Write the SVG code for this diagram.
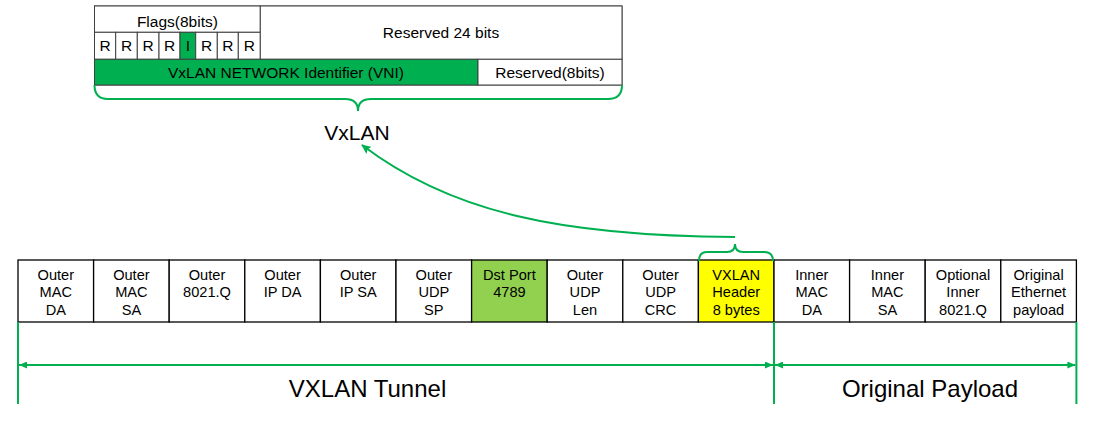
<svg xmlns="http://www.w3.org/2000/svg" width="1100" height="423" viewBox="0 0 1100 423">
<style>
text{font-family:"Liberation Sans",Arial,sans-serif;fill:#000;text-anchor:middle}
.t{font-size:15.5px}
.c{font-size:14.6px}
.big{font-size:24px}
.hb{fill:#fff;stroke:#404040;stroke-width:1}
.cell{fill:#fff;stroke:#000;stroke-width:1.3}
.g{stroke:#00B050;stroke-width:2;fill:none}
</style>
<defs>
<marker id="ah" viewBox="0 0 8 7" refX="8" refY="3.5" markerWidth="8" markerHeight="7" markerUnits="userSpaceOnUse" orient="auto-start-reverse">
<path d="M0,0 L8,3.5 L0,7 z" fill="#00B050"/>
</marker>
<marker id="ah2" viewBox="0 0 10 9" refX="9" refY="4.5" markerWidth="10" markerHeight="9" markerUnits="userSpaceOnUse" orient="auto">
<path d="M0,0 L10,4.5 L0,9 L2,4.5 z" fill="#00B050"/>
</marker>
</defs>

<g id="vxlan-header">
<rect class="hb" x="94.5" y="6" width="527.5" height="79"/>
<g id="flags">
<rect class="hb" x="94.5" y="6" width="165.8" height="26.3"/>
<text class="t" x="177.4" y="26.5">Flags(8bits)</text>
</g>
<g id="flag-bits">
<rect class="hb" x="94.5" y="32.3" width="21.2" height="27"/>
<rect class="hb" x="115.7" y="32.3" width="21.6" height="27"/>
<rect class="hb" x="137.3" y="32.3" width="21.7" height="27"/>
<rect class="hb" x="159" y="32.3" width="21" height="27"/>
<rect x="180" y="32.3" width="15.7" height="27" fill="#00B050" stroke="#404040" stroke-width="1"/>
<rect class="hb" x="195.7" y="32.3" width="21.6" height="27"/>
<rect class="hb" x="217.3" y="32.3" width="21" height="27"/>
<rect class="hb" x="238.3" y="32.3" width="22" height="27"/>
<text class="t" x="105.1" y="51">R</text>
<text class="t" x="126.5" y="51">R</text>
<text class="t" x="148.2" y="51">R</text>
<text class="t" x="169.5" y="51">R</text>
<text class="t" x="187.9" y="51">I</text>
<text class="t" x="206.5" y="51">R</text>
<text class="t" x="227.8" y="51">R</text>
<text class="t" x="249.3" y="51">R</text>
</g>
<g id="reserved24">
<rect class="hb" x="260.3" y="6" width="361.7" height="53.3"/>
<text class="t" x="441" y="38">Reserved 24 bits</text>
</g>
<g id="vni">
<rect x="94.5" y="59.3" width="383.5" height="25.7" fill="#00B050" stroke="#404040" stroke-width="1"/>
<text class="t" x="286" y="78.3">VxLAN NETWORK Identifier (VNI)</text>
</g>
<g id="reserved8">
<rect class="hb" x="478" y="59.3" width="144" height="25.7"/>
<text class="t" x="550" y="78.3">Reserved(8bits)</text>
</g>
</g>

<g id="vxlan-label">
<text x="357" y="140" style="font-size:21px">VxLAN</text>
</g>

<g id="packet">
<g id="f1"><rect class="cell" x="18" y="260" width="75.6" height="62"/><text class="c" x="55.8" y="279.5">Outer</text><text class="c" x="55.8" y="297">MAC</text><text class="c" x="55.8" y="314.5">DA</text></g>
<g id="f2"><rect class="cell" x="93.6" y="260" width="75.6" height="62"/><text class="c" x="131.4" y="279.5">Outer</text><text class="c" x="131.4" y="297">MAC</text><text class="c" x="131.4" y="314.5">SA</text></g>
<g id="f3"><rect class="cell" x="169.2" y="260" width="75.6" height="62"/><text class="c" x="207" y="279.5">Outer</text><text class="c" x="207" y="297">8021.Q</text></g>
<g id="f4"><rect class="cell" x="244.8" y="260" width="75.6" height="62"/><text class="c" x="282.6" y="279.5">Outer</text><text class="c" x="282.6" y="297">IP DA</text></g>
<g id="f5"><rect class="cell" x="320.4" y="260" width="75.6" height="62"/><text class="c" x="358.2" y="279.5">Outer</text><text class="c" x="358.2" y="297">IP SA</text></g>
<g id="f6"><rect class="cell" x="396" y="260" width="75.6" height="62"/><text class="c" x="433.8" y="279.5">Outer</text><text class="c" x="433.8" y="297">UDP</text><text class="c" x="433.8" y="314.5">SP</text></g>
<g id="f7"><rect class="cell" x="471.6" y="260" width="75.6" height="62" style="fill:#92D050"/><text class="c" x="509.4" y="279.5">Dst Port</text><text class="c" x="509.4" y="297">4789</text></g>
<g id="f8"><rect class="cell" x="547.2" y="260" width="75.6" height="62"/><text class="c" x="585" y="279.5">Outer</text><text class="c" x="585" y="297">UDP</text><text class="c" x="585" y="314.5">Len</text></g>
<g id="f9"><rect class="cell" x="622.8" y="260" width="75.6" height="62"/><text class="c" x="660.6" y="279.5">Outer</text><text class="c" x="660.6" y="297">UDP</text><text class="c" x="660.6" y="314.5">CRC</text></g>
<g id="f10"><rect class="cell" x="698.4" y="260" width="75.6" height="62" style="fill:#FFFF00"/><text class="c" x="736.2" y="279.5">VXLAN</text><text class="c" x="736.2" y="297">Header</text><text class="c" x="736.2" y="314.5">8 bytes</text></g>
<g id="f11"><rect class="cell" x="774" y="260" width="75.6" height="62"/><text class="c" x="811.8" y="279.5">Inner</text><text class="c" x="811.8" y="297">MAC</text><text class="c" x="811.8" y="314.5">DA</text></g>
<g id="f12"><rect class="cell" x="849.6" y="260" width="75.6" height="62"/><text class="c" x="887.4" y="279.5">Inner</text><text class="c" x="887.4" y="297">MAC</text><text class="c" x="887.4" y="314.5">SA</text></g>
<g id="f13"><rect class="cell" x="925.2" y="260" width="75.6" height="62"/><text class="c" x="963" y="279.5">Optional</text><text class="c" x="963" y="297">Inner</text><text class="c" x="963" y="314.5">8021.Q</text></g>
<g id="f14"><rect class="cell" x="1000.8" y="260" width="75.6" height="62"/><text class="c" x="1038.6" y="279.5">Original</text><text class="c" x="1038.6" y="297">Ethernet</text><text class="c" x="1038.6" y="314.5">payload</text></g>
</g>

<g id="connectors">
<path class="g" d="M94.5,85 Q94.5,99 108,99 L345,99 Q358,99 358,111 Q358,99 371,99 L608,99 Q622,99 622,85"/>
<path class="g" d="M699,261 Q699,252 707,252 L727,252 Q735,252 735,244 Q735,252 743,252 L764,252 Q773,252 773,261"/>
<path class="g" d="M735,237 C560,236 450,212 362,145" marker-end="url(#ah2)"/>
<line class="g" x1="18" y1="322" x2="18" y2="404"/>
<line class="g" x1="774" y1="322" x2="774" y2="404"/>
<line class="g" x1="1076.4" y1="322" x2="1076.4" y2="404"/>
<line class="g" x1="19" y1="365" x2="773" y2="365" marker-start="url(#ah)" marker-end="url(#ah)"/>
<line class="g" x1="775" y1="365" x2="1075.4" y2="365" marker-start="url(#ah)" marker-end="url(#ah)"/>
</g>

<g id="tunnel-label"><text class="big" x="367.5" y="396.5">VXLAN Tunnel</text></g>
<g id="payload-label"><text class="big" x="930" y="396.5">Original Payload</text></g>
</svg>
